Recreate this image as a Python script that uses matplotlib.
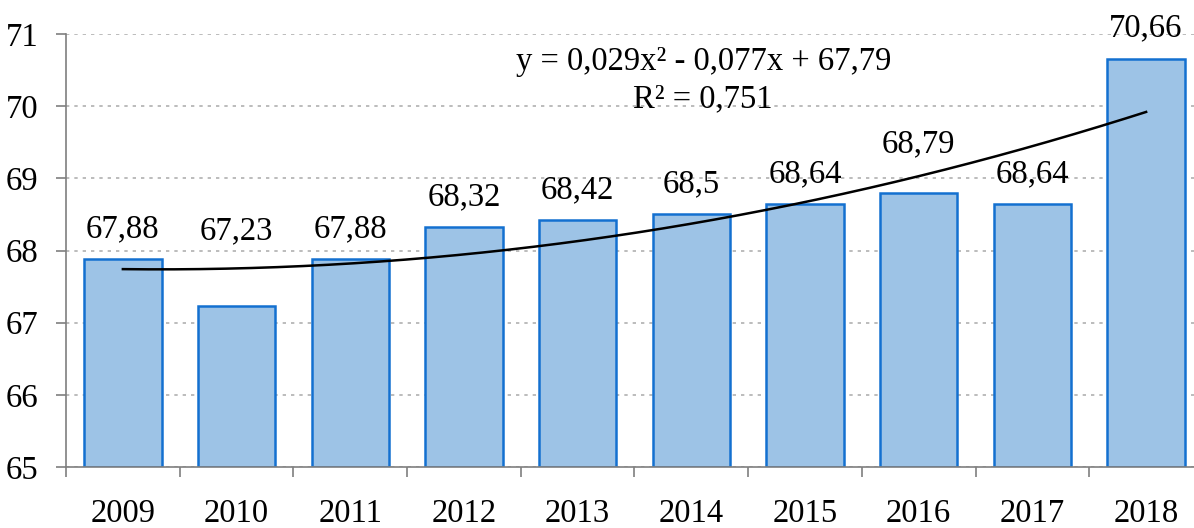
import numpy as np
import matplotlib.pyplot as plt

years = ['2009', '2010', '2011', '2012', '2013', '2014', '2015', '2016', '2017', '2018']
values = [67.88, 67.23, 67.88, 68.32, 68.42, 68.5, 68.64, 68.79, 68.64, 70.66]
# trend coefficients as printed on the chart
trend_coef = [0.029, -0.077, 67.79]
r2 = 0.751

plt.rcParams['font.family'] = ['Liberation Serif', 'DejaVu Serif']
FS = 23.5

fig = plt.figure(figsize=(11.94, 5.28), dpi=100)
ax = fig.add_axes([0.0553, 0.1155, 1.0075 - 0.0553, 0.9356 - 0.1155])

x = np.arange(len(years))
ax.bar(x, np.array(values) - 65, bottom=65, width=0.68,
       color='#9dc3e6', edgecolor='#1370d0', linewidth=1.8, zorder=2)

# trendline over the bar centres
xt = np.linspace(1, len(years), 200)
ax.plot(xt - 1, np.polyval(trend_coef, xt), color='black', linewidth=1.8, zorder=3)

# label offsets (points above bar top), a few were moved by hand in the original
extra = {1: 32, 7: 14}
for i, v in enumerate(values):
    ax.annotate(f'{v:g}'.replace('.', ','), (i, v),
                xytext=(0, 16 + extra.get(i, 0)), textcoords='offset points',
                ha='center', va='baseline', fontsize=FS)

fig.text(0.589, 0.867, 'y = 0,029x² - 0,077x + 67,79',
         ha='center', va='baseline', fontsize=FS)
fig.text(0.589, 0.797, f'R² = {r2}'.replace('.', ','),
         ha='center', va='baseline', fontsize=FS)

ax.set_ylim(65, 71)
ax.set_xlim(-0.5, len(years) - 0.5)
ax.set_yticks(range(65, 72))
ax.set_xticks(x)
ax.set_xticklabels(years)
ax.set_xticks(np.arange(-0.5, len(years)), minor=True)
ax.tick_params(axis='x', which='major', length=0, pad=23, labelsize=FS)
ax.tick_params(axis='x', which='minor', length=7, color='#7f7f7f', width=1.2)
ax.tick_params(axis='y', length=7, color='#7f7f7f', width=1.2, pad=13, labelsize=FS)

ax.yaxis.grid(True, linestyle=(0, (2, 3)), color='#b0b0b0', linewidth=1.2, zorder=0)
ax.set_axisbelow(True)
for s in ['top', 'right']:
    ax.spines[s].set_visible(False)
for s in ['left', 'bottom']:
    ax.spines[s].set_color('#7f7f7f')
    ax.spines[s].set_linewidth(1.2)

fig.savefig('out.png', dpi=100)
